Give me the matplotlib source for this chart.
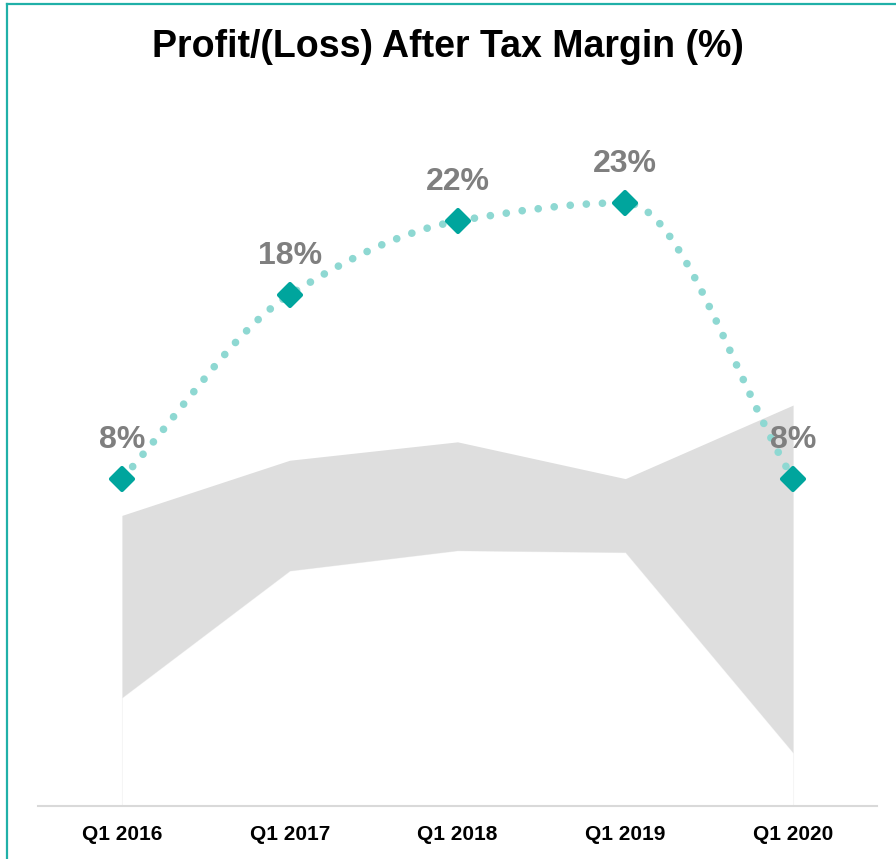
import matplotlib.pyplot as plt
import numpy as np
from matplotlib.path import Path
from matplotlib.patches import PathPatch
from matplotlib.lines import Line2D
from matplotlib.markers import MarkerStyle

plt.rcParams["font.family"] = ["Liberation Sans", "DejaVu Sans"]

# data
quarters = ["Q1 2016", "Q1 2017", "Q1 2018", "Q1 2019", "Q1 2020"]
margin = [8, 18, 22, 23, 8]
margin_labels = ["8%", "18%", "22%", "23%", "8%"]
range_low = [-3.9, 3.0, 4.1, 4.0, -6.9]
range_high = [6.0, 9.0, 10.0, 8.0, 12.0]

TEAL = "#00A59D"
DOT = "#8ED8D2"
BAND = "#DEDEDE"
Y_MIN, Y_MAX = -9.8, 30


def smooth_path(xs, ys):
    """Bezier path through the points with monotone (no overshoot) tangents."""
    xs = np.asarray(xs, float)
    ys = np.asarray(ys, float)
    n = len(xs)
    d = np.diff(ys) / np.diff(xs)
    m = np.zeros(n)
    m[0], m[-1] = d[0], d[-1]
    for i in range(1, n - 1):
        if d[i - 1] * d[i] <= 0:
            m[i] = 0
        else:
            m[i] = 2 / (1 / d[i - 1] + 1 / d[i])
    verts = [(xs[0], ys[0])]
    codes = [Path.MOVETO]
    for i in range(n - 1):
        h = xs[i + 1] - xs[i]
        verts += [
            (xs[i] + h / 3, ys[i] + m[i] * h / 3),
            (xs[i + 1] - h / 3, ys[i + 1] - m[i + 1] * h / 3),
            (xs[i + 1], ys[i + 1]),
        ]
        codes += [Path.CURVE4] * 3
    return Path(verts, codes)


fig = plt.figure(figsize=(8.96, 8.59), dpi=100)
ax = fig.add_axes([38 / 896, 53 / 859, 839 / 896, (806 - 74) / 859])

x = np.arange(len(quarters))

# white base area and grey range band
ax.fill_between(x, Y_MIN, range_low, color="white", edgecolor="#F3F3F3", lw=0.6, zorder=1)
ax.fill_between(x, range_low, range_high, color=BAND, lw=0, zorder=2)

# smoothed dotted line
line = PathPatch(
    smooth_path(x, margin),
    fill=False,
    edgecolor=DOT,
    linewidth=5.5,
    linestyle=(0, (0.01, 2.1)),
    capstyle="round",
    zorder=3,
)
ax.add_patch(line)

diamond = MarkerStyle("D", joinstyle="round")
ax.plot(
    x, margin, linestyle="none", marker=diamond, markersize=11.5,
    markerfacecolor=TEAL, markeredgecolor=TEAL, markeredgewidth=3,
    zorder=4,
)

for xi, yi, lab in zip(x, margin, margin_labels):
    ax.annotate(
        lab, (xi, yi), xytext=(0, 28), textcoords="offset points",
        ha="center", va="center", fontsize=23, fontweight="bold",
        color="#7F7F7F", zorder=5,
    )

ax.set_xlim(-0.5, len(quarters) - 0.5)
ax.set_ylim(Y_MIN, Y_MAX)
ax.set_xticks(x)
ax.set_xticklabels(quarters, fontsize=15, fontweight="bold")
ax.tick_params(axis="x", length=0, pad=14)
ax.set_yticks([])
for s in ["top", "right", "left"]:
    ax.spines[s].set_visible(False)
ax.spines["bottom"].set_color("#D9D9D9")
ax.spines["bottom"].set_linewidth(1.5)

fig.text(0.5, 1 - 47 / 859, "Profit/(Loss) After Tax Margin (%)",
         ha="center", va="center", fontsize=27, fontweight="bold")

# teal frame (top and left edges)
fig.add_artist(Line2D([7 / 896, 1], [1 - 4 / 859, 1 - 4 / 859], color="#20B0A8", lw=1.6))
fig.add_artist(Line2D([7 / 896, 7 / 896], [0, 1 - 4 / 859], color="#20B0A8", lw=1.6))

fig.savefig("out.png", dpi=100)
